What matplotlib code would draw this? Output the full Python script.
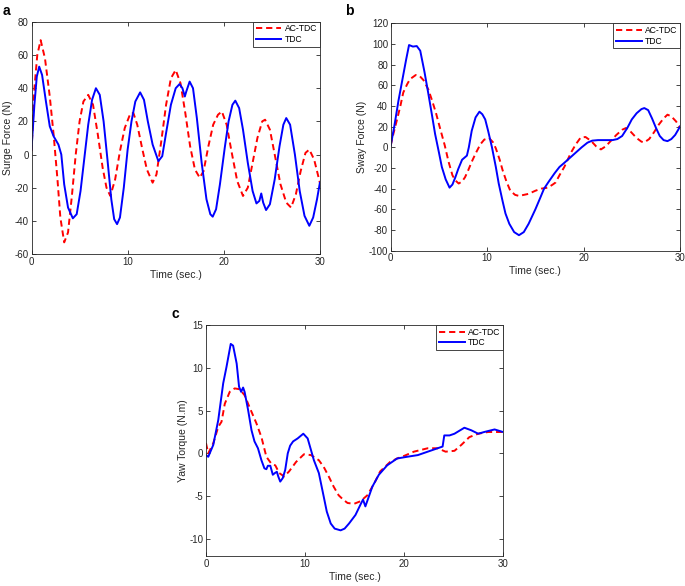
import matplotlib
matplotlib.use('Agg')
import matplotlib.pyplot as plt

plt.rcParams['font.family'] = ['Liberation Sans', 'DejaVu Sans']
plt.rcParams['axes.unicode_minus'] = False

# ---- panel a : surge force ----
t_a_ac = [0, 0.3, 0.6, 0.95, 1.4, 1.9, 2.3, 2.7, 3.0, 3.4, 3.8, 4.2, 4.6, 5.0, 5.4, 5.9,
          6.4, 6.9, 7.4, 7.8, 8.2, 8.7, 9.2, 9.7, 10.3, 10.6, 11.0, 11.5, 12.0, 12.6, 13.0,
          13.5, 14.0, 14.5, 15.0, 15.5, 16.0, 16.5, 17.0, 17.5, 17.9, 18.4, 18.9, 19.4, 19.8,
          20.3, 20.8, 21.4, 22.0, 22.5, 23.0, 23.5, 24.0, 24.3, 24.8, 25.3, 25.9, 26.5, 27.0,
          27.5, 28.0, 28.5, 28.9, 29.4, 30]
f_a_ac = [2, 40, 60, 69, 58, 35, 12, -15, -38, -53, -47, -25, 0, 20, 32, 36,
          30, 12, -8, -20, -25, -15, 2, 16, 25, 25, 18, 4, -9, -17, -12,
          8, 30, 46, 51, 43, 25, 5, -9, -14, -10, 5, 18, 24, 26,
          18, 2, -16, -25, -20, -5, 10, 20, 21, 15, 0, -18, -29, -32,
          -24, -10, 1, 3, -3, -17]
t_a_tdc = [0, 0.3, 0.55, 0.8, 1.1, 1.5, 1.9, 2.3, 2.8, 3.1, 3.4, 3.8, 4.3, 4.7, 5.1, 5.5,
           5.9, 6.3, 6.7, 7.1, 7.5, 7.9, 8.3, 8.6, 8.9, 9.2, 9.6, 10.0, 10.4, 10.8, 11.3,
           11.7, 12.1, 12.6, 13.2, 13.6, 14.0, 14.5, 15.0, 15.4, 15.7, 15.95, 16.1, 16.45,
           16.8, 17.2, 17.7, 18.2, 18.6, 18.85, 19.2, 19.6, 20.1, 20.5, 20.9, 21.2, 21.6,
           22.0, 22.5, 23.0, 23.4, 23.7, 23.9, 24.1, 24.4, 24.8, 25.3, 25.8, 26.2, 26.5,
           26.9, 27.4, 27.9, 28.4, 28.9, 29.3, 29.7, 30]
f_a_tdc = [3, 30, 47, 53, 48, 32, 17, 11, 6, 0, -18, -32, -38.5, -36, -22, -2,
           18, 33, 40, 36, 20, -3, -27, -39, -42, -38, -20, 3, 20, 32, 37.5,
           33, 20, 6, -4, -1, 13, 30, 40, 42.5, 40, 35, 38, 44,
           40, 22, -5, -27, -36, -37.5, -33, -18, 4, 20, 30, 32.5, 28,
           15, -5, -22, -29.5, -28, -23.5, -29, -33.5, -30, -15, 5, 18, 22,
           18, 0, -22, -37, -43, -38, -27, -17]

# ---- panel b : sway force ----
t_b_ac = [0, 0.3, 0.63, 1.0, 1.3, 1.7, 2.0, 2.6, 3.0, 3.4, 3.9, 4.3, 4.7, 5.1, 5.6,
          6.0, 6.4, 6.7, 7.05, 7.4, 7.7, 8.0, 8.4, 8.8, 9.3, 9.7, 10.2, 10.6, 10.9,
          11.3, 11.6, 12.0, 12.4, 12.9, 13.3, 13.8, 14.3, 15.0, 15.6, 16.3, 16.8, 17.1,
          17.5, 18.0, 18.4, 18.7, 19.2, 19.7, 20.2, 20.8, 21.3, 21.8, 22.3, 22.8, 23.4,
          24.0, 24.4, 24.9, 25.5, 26.0, 26.3, 26.8, 27.3, 27.8, 28.3, 28.7, 29.1, 29.6, 30]
f_b_ac = [2, 14, 26, 40, 53, 61, 66, 70, 69, 65, 56, 45, 33, 19, 2,
          -14, -27, -32, -35, -33, -29, -23, -14, -6, 3, 7.5, 9, 5, -1,
          -12, -22, -33, -42, -46, -47, -46, -45, -42, -40, -39, -36, -34,
          -27, -19, -11, -5, 3, 9.5, 10, 6, 1, -2, 1, 6, 12,
          17, 18.7, 15, 9, 5.5, 4.8, 8, 14.5, 22, 28, 31.6, 30, 25, 19]
t_b_tdc = [0, 0.4, 0.8, 1.2, 1.6, 1.9, 2.3, 2.7, 3.06, 3.5, 3.9, 4.3, 4.6, 5.0, 5.3,
           5.7, 6.1, 6.4, 6.7, 7.0, 7.4, 7.9, 8.1, 8.4, 8.8, 9.2, 9.5, 9.8, 10.1,
           10.5, 10.9, 11.2, 11.6, 11.9, 12.3, 12.8, 13.3, 13.8, 14.3, 14.7, 15.0,
           15.5, 15.9, 16.4, 17.0, 17.5, 18.0, 18.6, 19.2, 19.8, 20.4, 20.9, 21.5,
           22.2, 23.0, 23.5, 24.0, 24.55, 25.0, 25.5, 26.0, 26.3, 26.7, 27.1, 27.5,
           27.9, 28.3, 28.7, 29.1, 29.5, 30]
f_b_tdc = [1.6, 22, 45, 65, 85, 99, 97.5, 98, 93.5, 73, 52, 30, 13, -5, -19,
           -31, -39, -36, -29, -21, -12, -8, 0, 16, 29, 34.5, 32, 27, 16,
           0, -19, -35, -52, -64, -74, -82, -85, -82, -74, -66, -60,
           -49, -40, -33, -25, -19, -15, -10, -5, 0, 4.5, 6.5, 7,
           7, 7, 8, 11, 19, 27, 33, 37, 38, 36, 28, 19,
           11, 7, 6, 8, 12, 20]

# ---- panel c : yaw torque ----
t_c_ac = [0, 0.23, 0.74, 1.24, 1.57, 1.9, 2.4, 2.9, 3.4, 3.9, 4.4, 5.1, 5.6, 6.1, 6.6,
          7.0, 7.4, 7.9, 8.4, 9.1, 9.9, 10.6, 11.4, 11.9, 12.4, 12.9, 13.4, 13.85, 14.3,
          14.95, 15.6, 16.3, 17.0, 17.6, 18.6, 19.3, 20.0, 21.0, 22.4, 23.4, 24.2, 25.1,
          25.8, 26.6, 27.5, 28.5, 30]
f_c_ac = [1.2, 0, 1.2, 3.1, 3.7, 5.8, 7.2, 7.6, 7.5, 6.8, 5.4, 3.5, 1.9, -0.4, -1.2,
          -1.4, -2.3, -2.7, -2.1, -1.0, -0.1, -0.2, -0.8, -1.6, -2.7, -3.9, -4.9, -5.4, -5.8,
          -5.9, -5.6, -4.9, -3.5, -2.1, -1.0, -0.6, -0.3, 0.2, 0.6, 0.6, 0.2, 0.3,
          1.0, 1.9, 2.3, 2.5, 2.5]
t_c_tdc = [0, 0.23, 0.74, 1.24, 1.74, 2.07, 2.5, 2.74, 3.1, 3.34, 3.55, 3.75, 3.9, 4.25,
           4.6, 4.9, 5.25, 5.6, 5.9, 6.1, 6.25, 6.5, 6.75, 6.96, 7.16, 7.3, 7.5, 7.75, 8.0,
           8.26, 8.5, 8.8, 9.26, 9.83, 10.27, 10.9, 11.4, 11.9, 12.2, 12.6, 13.0, 13.6,
           14.0, 14.45, 15.1, 15.6, 15.86, 16.1, 16.8, 17.46, 18.3, 19.3, 20.3, 21.4, 22.4,
           23.4, 23.9, 24.07, 24.6, 25.1, 26.1, 26.8, 27.5, 28.1, 29.15, 30]
f_c_tdc = [-0.2, -0.4, 1, 3.9, 8.2, 10.1, 12.8, 12.6, 10.5, 7.8, 7.2, 7.7, 7.2, 5.1,
           2.7, 1.4, 0.6, -0.8, -1.75, -1.85, -1.45, -1.45, -2.5, -2.3, -2.15, -2.7, -3.3, -2.9, -1.95,
           0, 0.9, 1.4, 1.75, 2.3, 1.75, -0.8, -2.3, -5.1, -6.8, -8.2, -8.8, -9.0,
           -8.8, -8.2, -7.2, -6.0, -5.4, -6.2, -3.9, -2.5, -1.4, -0.6, -0.4, -0.2, 0.2,
           0.6, 0.8, 2.1, 2.1, 2.3, 3.0, 2.7, 2.3, 2.5, 2.8, 2.5]

gray = '#262626'


def draw_panel(ax, t1, y1, t2, y2, ylim, yticks, ylabel):
    ax.plot(t1, y1, color='#ff0000', ls=(0, (3.2, 2.0)), lw=1.4, label='AC-TDC')
    ax.plot(t2, y2, color='#0000ff', lw=1.4, label='TDC')
    ax.set_xlim(0, 30)
    ax.set_ylim(*ylim)
    ax.set_xticks([0, 10, 20, 30])
    ax.set_yticks(yticks)
    ax.tick_params(direction='in', top=True, right=True, labelsize=7,
                   length=3, width=0.6, colors=gray, pad=2)
    for s in ax.spines.values():
        s.set_color(gray)
        s.set_linewidth(0.6)
    ax.set_xlabel('Time (sec.)', fontsize=7.5, color=gray, labelpad=2)
    ax.set_ylabel(ylabel, fontsize=7.5, color=gray, labelpad=1)
    leg = ax.legend(loc='upper right', fontsize=6.2, fancybox=False, framealpha=1,
                    edgecolor=gray, borderaxespad=0, handlelength=3.0,
                    borderpad=0.3, labelspacing=0.2, handletextpad=0.4)
    leg.get_frame().set_linewidth(0.6)


fig = plt.figure(figsize=(6.85, 5.86), dpi=100)

ax_a = fig.add_axes([0.046, 0.5666, 0.421, 0.396])
draw_panel(ax_a, t_a_ac, f_a_ac, t_a_tdc, f_a_tdc, (-60, 80),
           range(-60, 81, 20), 'Surge Force (N)')

ax_b = fig.add_axes([0.5704, 0.5722, 0.4223, 0.388])
draw_panel(ax_b, t_b_ac, f_b_ac, t_b_tdc, f_b_tdc, (-100, 120),
           range(-100, 121, 20), 'Sway Force (N)')

ax_c = fig.add_axes([0.3007, 0.0512, 0.4336, 0.394])
draw_panel(ax_c, t_c_ac, f_c_ac, t_c_tdc, f_c_tdc, (-12, 15),
           range(-10, 16, 5), 'Yaw Torque (N.m)')

fig.text(0.004, 0.982, 'a', fontsize=10, fontweight='bold', va='center')
fig.text(0.503, 0.982, 'b', fontsize=10, fontweight='bold', va='center')
fig.text(0.251, 0.465, 'c', fontsize=10, fontweight='bold', va='center')

fig.savefig('out.png', dpi=100)
